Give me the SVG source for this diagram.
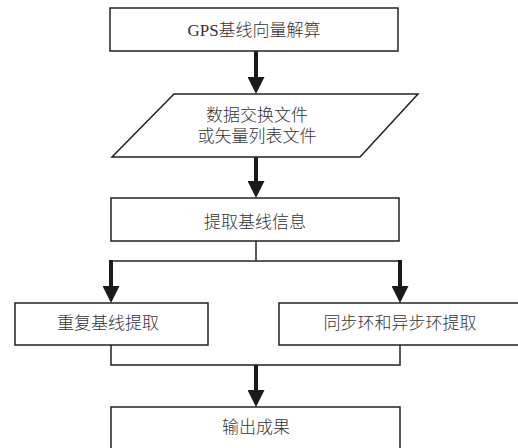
<svg xmlns="http://www.w3.org/2000/svg" width="518" height="448" viewBox="0 0 518 448">
<style>
.box{fill:#fff;stroke:#222;stroke-width:1.5}
.t{font-family:"Liberation Serif","Noto Sans CJK SC",serif;font-size:17px;font-weight:300;fill:#333;text-anchor:middle;dominant-baseline:central}
.thin{stroke:#222;stroke-width:1.5;fill:none}
.thick{stroke:#1a1a1a;stroke-width:4;fill:none}
</style>
<defs>
<marker id="ah" markerUnits="userSpaceOnUse" markerWidth="17" markerHeight="17" refX="0" refY="8.5" orient="auto" viewBox="0 0 17 17">
<path d="M0,0 L17,8.5 L0,17 z" fill="#1a1a1a"/>
</marker>
</defs>
<rect width="518" height="448" fill="#fff"/>
<g id="connectors">
<line class="thick" x1="256" y1="51" x2="256" y2="77" marker-end="url(#ah)"/>
<line class="thick" x1="256" y1="157" x2="256" y2="181" marker-end="url(#ah)"/>
<polyline class="thin" points="256,241 256,261"/>
<line class="thin" x1="111" y1="261" x2="400" y2="261"/>
<line class="thick" x1="111" y1="260" x2="111" y2="286" marker-end="url(#ah)"/>
<line class="thick" x1="400" y1="260" x2="400" y2="286" marker-end="url(#ah)"/>
<polyline class="thin" points="111,345 111,365 400,365 400,345"/>
<line class="thick" x1="256" y1="365" x2="256" y2="390" marker-end="url(#ah)"/>
</g>
<g id="n1">
<rect class="box" x="110" y="8" width="288" height="43"/>
<text class="t" x="254" y="30">GPS基线向量解算</text>
</g>
<g id="n2">
<polygon class="box" points="174,94 418,94 360,157 112,157"/>
<text class="t" x="257" y="115">数据交换文件</text>
<text class="t" x="257" y="136">或矢量列表文件</text>
</g>
<g id="n3">
<rect class="box" x="111" y="198" width="288" height="43"/>
<text class="t" x="255" y="222">提取基线信息</text>
</g>
<g id="n4">
<rect class="box" x="15" y="303" width="193" height="42"/>
<text class="t" x="108" y="323">重复基线提取</text>
</g>
<g id="n5">
<rect class="box" x="279" y="303" width="245" height="42"/>
<text class="t" x="400" y="323">同步环和异步环提取</text>
</g>
<g id="n6">
<rect class="box" x="111" y="407" width="289" height="50"/>
<text class="t" x="256" y="427">输出成果</text>
</g>
</svg>
